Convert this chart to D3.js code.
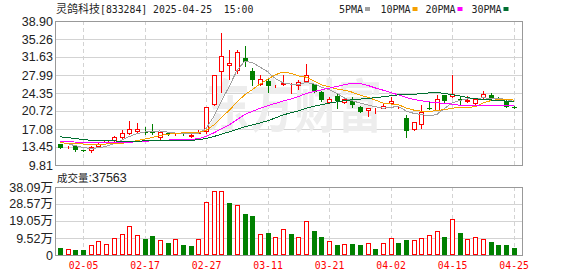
<!DOCTYPE html>
<html>
<head>
<meta charset="utf-8">
<script src="https://cdn.jsdelivr.net/npm/d3@7"></script>
<style>
body { margin: 0; background: #fff; }
svg { display: block; }
</style>
</head>
<body>
<div id="chart"></div>
<script>
////////////////////////////////////////////////////////////////////////////////////////
// Data
var dates = ["01-23","01-24","01-27","02-05","02-06","02-07","02-10","02-11","02-12","02-13",
    "02-14","02-17","02-18","02-19","02-20","02-21","02-24","02-25","02-26","02-27",
    "02-28","03-03","03-04","03-05","03-06","03-07","03-10","03-11","03-12","03-13",
    "03-14","03-17","03-18","03-19","03-20","03-21","03-24","03-25","03-26","03-27",
    "03-28","03-31","04-01","04-02","04-03","04-07","04-08","04-09","04-10","04-11",
    "04-14","04-15","04-16","04-17","04-18","04-21","04-22","04-23","04-24","04-25"];

var open  = [14.0,13.45,13.7,12.8,12.8,13.65,14.5,14.85,15.4,16.35,
    16.7,16.55,16.7,15.55,16.35,16.0,16.2,15.7,16.35,16.7,
    22.1,28.7,30.0,29.1,31.4,28.7,26.1,26.8,25.75,26.2,
    25.55,26.0,26.85,26.1,24.6,22.6,23.8,22.5,22.75,21.6,
    20.95,20.85,21.4,22.3,21.5,19.25,17.0,18.05,21.3,20.95,
    23.95,23.65,23.2,22.7,22.3,23.5,24.05,23.35,22.75,21.5];
var high  = [14.1,13.6,13.8,12.85,13.6,14.3,14.9,15.6,16.9,18.7,
    18.35,17.4,18.1,16.6,16.4,16.3,16.25,16.1,16.9,21.6,
    28.0,36.5,33.0,33.0,33.9,29.4,28.0,27.1,26.0,28.0,
    26.3,27.0,30.15,26.2,24.7,23.6,24.2,23.3,23.5,21.7,
    21.35,21.25,22.4,23.5,21.8,20.0,18.5,21.9,22.7,23.95,
    24.0,28.0,23.6,23.8,23.35,24.75,24.4,23.55,22.85,21.7];
var low   = [13.2,13.3,12.7,12.6,12.45,13.5,14.4,14.6,15.35,16.1,
    16.35,16.1,16.1,15.15,15.95,15.8,15.8,15.45,16.2,16.2,
    22.0,24.5,27.1,28.3,29.9,26.0,25.9,24.6,25.6,26.0,
    24.4,25.1,26.75,24.5,22.8,22.3,21.3,22.4,21.6,20.5,
    19.8,20.25,21.35,22.2,21.4,15.55,16.85,17.2,21.1,20.9,
    22.4,23.55,22.1,22.5,22.2,23.4,23.1,23.05,21.5,21.3];
var close = [13.3,13.5,12.75,12.7,13.45,14.1,14.8,15.45,16.3,17.1,
    17.15,16.35,16.3,16.5,16.05,16.1,16.0,15.95,16.5,21.5,
    27.9,31.8,30.5,32.7,30.7,27.0,27.15,25.7,25.85,26.35,
    25.65,26.5,28.0,24.65,22.95,23.15,22.8,23.15,21.95,20.6,
    21.25,20.95,21.7,22.75,21.6,16.7,18.45,20.6,21.15,23.15,
    22.8,24.1,22.85,22.9,23.2,24.1,23.15,23.1,21.6,21.4];

// volume in 万 (10k shares)
var volume = [4.1,3.36,2.8,2.8,5.6,7.7,6.2,9.5,11.6,16.1,
    11.0,9.0,10.6,8.2,6.7,8.8,5.6,5.0,8.8,29.5,
    35.85,35.85,28.9,27.8,23.0,21.8,11.6,12.3,10.1,14.4,
    11.8,10.25,19.05,13.4,10.25,7.8,5.6,6.2,6.2,5.6,
    6.55,3.36,6.7,9.5,6.9,8.4,8.4,9.5,11.0,13.4,
    10.25,20.2,12.3,9.0,10.1,9.0,7.3,5.6,5.6,3.7563];
var lastVolume = 37563;

var ma5 = [14.4,14.1,13.7,13.35,13.14,13.3,13.56,14.1,14.82,15.55,
    16.16,16.47,16.64,16.68,16.47,16.27,16.17,16.14,16.15,17.21,
    19.59,22.76,25.63,28.87,30.72,30.54,29.61,28.65,27.29,26.41,
    26.14,26.01,26.47,26.23,25.55,25.05,24.31,23.34,22.8,22.33,
    21.95,21.58,21.29,21.45,21.65,20.74,20.24,20.02,19.7,20.01,
    21.23,22.36,22.83,23.16,23.17,23.41,23.25,23.29,23.03,22.67];
var ma10 = [14.3,14.2,14.1,14.05,14.0,14.0,14.05,14.1,14.2,14.35,
    14.73,15.02,15.37,15.75,16.01,16.21,16.3,16.35,16.37,16.81,
    17.89,19.43,20.85,22.49,23.96,25.03,26.15,27.1,28.04,28.57,
    28.35,27.82,27.57,26.77,26.0,25.6,25.17,24.92,24.52,23.94,
    23.5,22.95,22.32,22.13,21.99,21.35,20.91,20.66,20.58,20.83,
    20.99,21.3,21.42,21.44,21.59,22.34,22.8,23.05,23.1,22.93];
var ma20 = [14.55,14.5,14.45,14.4,14.35,14.3,14.3,14.3,14.35,14.4,
    14.5,14.6,14.7,14.8,14.85,14.9,14.95,15.0,15.1,15.6,
    16.3,17.1,17.9,18.95,20.0,20.64,21.26,21.77,22.25,22.71,
    23.14,23.65,24.23,24.64,24.98,25.34,25.68,26.04,26.31,26.26,
    25.9,25.38,24.94,24.44,23.99,23.47,23.04,22.78,22.55,22.39,
    22.24,22.12,21.87,21.78,21.79,21.84,21.86,21.86,21.84,21.88];
var ma30 = [15.5,15.35,15.15,14.95,14.8,14.72,14.68,14.66,14.65,14.65,
    14.65,14.66,14.67,14.68,14.7,14.72,14.75,14.8,14.9,15.15,
    15.55,16.05,16.5,17.0,17.5,17.9,18.3,18.75,19.3,19.92,
    20.33,20.76,21.27,21.67,21.98,22.29,22.55,22.81,23.0,23.12,
    23.25,23.4,23.58,23.79,23.98,24.0,24.08,24.23,24.38,24.44,
    24.27,24.01,23.76,23.43,23.18,23.08,22.95,22.86,22.72,22.56];

var dateTicks = ["02-05","02-17","02-27","03-11","03-21","04-02","04-15","04-25"];
var priceTicks = [9.81,13.45,17.08,20.72,24.35,27.99,31.63,35.26,38.90];
var volTicks = [0,9.52,19.05,28.57,38.09];

var maNames = ["5PMA","10PMA","20PMA","30PMA"];
var maColors = ["#a0a0a0","#f5a000","#ff00ff","#006f30"];

////////////////////////////////////////////////////////////////////////////////////////
// Canvas
var svgWidth = 578;
var svgHeight = 276;
var left = 56, right = 522;
var priceTop = 21, priceBottom = 165;
var volTop = 187, volBottom = 255;

var red = "#ff0000";
var green = "#008000";
var gridColor = "#d3d3d3";
var borderColor = "#999999";

var svg = d3.select("#chart").append("svg")
    .attr("width", svgWidth)
    .attr("height", svgHeight);

// Scales
var x = d3.scalePoint().domain(dates).range([60, 513.6]);
var yP = d3.scaleLinear().domain([9.81, 38.90]).range([priceBottom, priceTop]);
var yV = d3.scaleLinear().domain([0, 38.09]).range([volBottom, volTop]);

function px(v) { return Math.round(v) + 0.5; }

////////////////////////////////////////////////////////////////////////////////////////
// Grid
var grid = svg.append("g");
[[priceTop, priceBottom, priceTicks, yP], [volTop, volBottom, volTicks, yV]].forEach(function (p) {
    grid.selectAll(null).data(p[2]).enter().append("line")
        .attr("x1", left).attr("x2", right)
        .attr("y1", d => px(p[3](d))).attr("y2", d => px(p[3](d)))
        .attr("stroke", gridColor);
    grid.selectAll(null).data(dateTicks).enter().append("line")
        .attr("x1", d => px(x(d))).attr("x2", d => px(x(d)))
        .attr("y1", p[0]).attr("y2", p[1])
        .attr("stroke", gridColor)
        .attr("stroke-dasharray", "4,3");
});

// Watermark
svg.append("text")
    .attr("transform", "translate(206,127) scale(1,1.3)")
    .attr("font-family", "Noto Sans CJK SC")
    .attr("font-weight", "bold")
    .attr("font-size", 44)
    .attr("fill", "#ededed")
    .text("东方财富");

////////////////////////////////////////////////////////////////////////////////////////
// Candles
var candles = svg.append("g");
dates.forEach(function (d, i) {
    var c = Math.round(x(d));
    var up = close[i] >= open[i];
    var col = up ? red : green;
    candles.append("line")
        .attr("x1", c + 0.5).attr("x2", c + 0.5)
        .attr("y1", Math.round(yP(high[i]))).attr("y2", Math.round(yP(low[i])) + 1)
        .attr("stroke", col);
    var top = Math.round(yP(Math.max(open[i], close[i])));
    var bot = Math.round(yP(Math.min(open[i], close[i])));
    if (up) {
        candles.append("rect")
            .attr("x", c - 1.5).attr("y", top + 0.5)
            .attr("width", 4).attr("height", Math.max(bot - top, 0))
            .attr("fill", "#fff").attr("stroke", col);
    } else {
        candles.append("rect")
            .attr("x", c - 2).attr("y", top)
            .attr("width", 5).attr("height", Math.max(bot - top, 1))
            .attr("fill", col);
    }
});

// Moving averages
var maData = [ma5, ma10, ma20, ma30];
var line = d3.line().x((v, i) => x(dates[i])).y(v => yP(v));
svg.append("g").selectAll("path").data(maData).enter().append("path")
    .attr("d", line)
    .attr("fill", "none")
    .attr("stroke", (d, i) => maColors[i])
    .attr("stroke-width", 1)
    .attr("shape-rendering", "crispEdges");

// Volume bars, coloured by close against previous close
var vols = svg.append("g");
volume.forEach(function (v, i) {
    var c = Math.round(x(dates[i]));
    var up = i === 0 ? close[i] >= open[i] : close[i] >= close[i - 1];
    var top = Math.round(yV(v));
    if (up) {
        vols.append("rect")
            .attr("x", c - 1.5).attr("y", top + 0.5)
            .attr("width", 4).attr("height", volBottom - top - 1)
            .attr("fill", "#fff").attr("stroke", red);
    } else {
        vols.append("rect")
            .attr("x", c - 2).attr("y", top)
            .attr("width", 5).attr("height", volBottom - top)
            .attr("fill", green);
    }
});

// Borders
svg.append("rect").attr("x", left - 0.5).attr("y", priceTop + 0.5)
    .attr("width", right - left + 1).attr("height", priceBottom - priceTop)
    .attr("fill", "none").attr("stroke", borderColor);
svg.append("rect").attr("x", left - 0.5).attr("y", volTop + 0.5)
    .attr("width", right - left + 1).attr("height", volBottom - volTop)
    .attr("fill", "none").attr("stroke", borderColor);

////////////////////////////////////////////////////////////////////////////////////////
// Axis labels
svg.append("g").selectAll("text").data(priceTicks).enter().append("text")
    .attr("x", 53).attr("y", d => yP(d) + 4.5)
    .attr("text-anchor", "end")
    .attr("font-family", "Liberation Sans")
    .attr("font-size", 12.5)
    .attr("fill", "#222")
    .text(d => d.toFixed(2));

svg.append("g").selectAll("text").data(volTicks).enter().append("text")
    .attr("x", 53).attr("y", d => yV(d) + 4.5)
    .attr("text-anchor", "end")
    .attr("font-family", "Liberation Sans, Noto Sans CJK SC")
    .attr("font-size", 12.5)
    .attr("fill", "#222")
    .text(d => d === 0 ? "0" : d.toFixed(2) + "万");

svg.append("g").selectAll("text").data(dateTicks).enter().append("text")
    .attr("x", d => x(d) + 0.5).attr("y", 269)
    .attr("text-anchor", "middle")
    .attr("font-family", "DejaVu Sans Mono")
    .attr("font-size", 9.8)
    .attr("fill", red)
    .text(d => d);

// Title
var title = svg.append("text").attr("x", 56).attr("y", 13).attr("fill", "#222")
    .style("white-space", "pre");
title.append("tspan").attr("font-family", "Noto Sans CJK SC").attr("font-size", 11).text("灵鸽科技");
title.append("tspan").attr("font-family", "DejaVu Sans Mono").attr("font-size", 9.8)
    .text("[833284] 2025-04-25  15:00");

// Volume caption
var vcap = svg.append("text").attr("x", 57).attr("y", 182).attr("fill", "#222");
vcap.append("tspan").attr("font-family", "Noto Sans CJK SC").attr("font-size", 10.5).text("成交量");
vcap.append("tspan").attr("font-family", "Liberation Sans").attr("font-size", 12.5).text(":" + lastVolume);

// Legend
var legendX = [339, 380.5, 425.5, 471.5];
var legend = svg.append("g").selectAll("g").data(maNames).enter().append("g")
    .attr("transform", (d, i) => "translate(" + legendX[i] + ",0)");
legend.append("text")
    .attr("x", 0).attr("y", 12.5)
    .attr("font-family", "DejaVu Sans Mono")
    .attr("font-size", 10)
    .attr("fill", "#222")
    .text(d => d);
legend.append("rect")
    .attr("x", (d, i) => d.length * 6 + 2).attr("y", 7)
    .attr("width", 5).attr("height", 4)
    .attr("fill", (d, i) => maColors[i]);
</script>
</body>
</html>
